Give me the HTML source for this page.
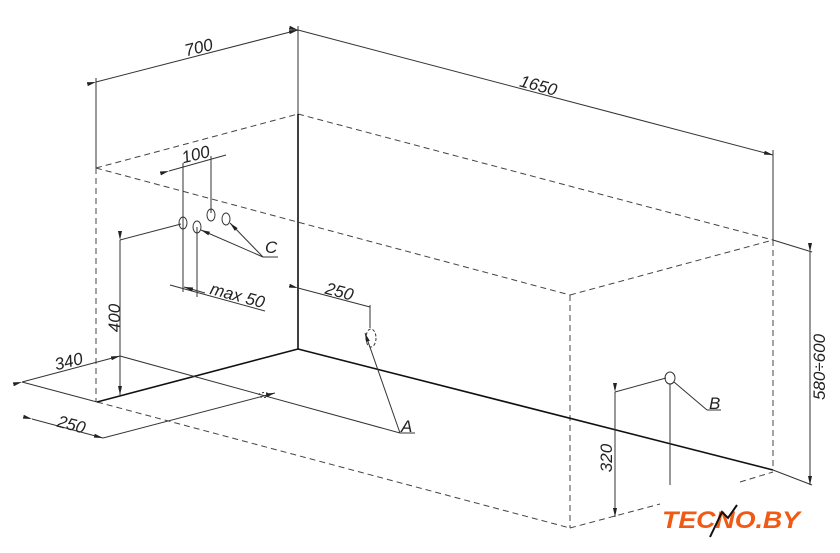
<!DOCTYPE html>
<html><head><meta charset="utf-8"><style>
html,body{margin:0;padding:0;background:#fff;width:840px;height:553px;overflow:hidden}
svg{display:block}
text{font-family:"Liberation Sans",sans-serif;font-style:italic;fill:#222;font-size:17px}
</style></head><body>
<svg width="840" height="553" viewBox="0 0 840 553" xmlns="http://www.w3.org/2000/svg">
<defs>
<marker id="ar" markerWidth="10" markerHeight="6" refX="9" refY="3" orient="auto" markerUnits="userSpaceOnUse"><path d="M0,1 L9,3 L0,5z" fill="#222"/></marker>
</defs>
<g stroke="#333" fill="none" stroke-width="1">
<line x1="298" y1="26" x2="298" y2="115"/>
<line x1="96" y1="78" x2="96" y2="168"/>
<line x1="773" y1="150" x2="773" y2="240"/>
<line x1="96" y1="82" x2="298" y2="30" marker-start="url(#ar)" marker-end="url(#ar)"/>
<line x1="298" y1="30" x2="773" y2="155" marker-start="url(#ar)" marker-end="url(#ar)"/>
</g>
<g stroke="#444" fill="none" stroke-width="1" stroke-dasharray="6,4">
<line x1="96" y1="168" x2="298" y2="114"/>
<line x1="298" y1="114" x2="773" y2="240"/>
<line x1="96" y1="168" x2="570" y2="295"/>
<line x1="570" y1="295" x2="773" y2="240"/>
<line x1="570" y1="295" x2="570" y2="528"/>
<line x1="773" y1="240" x2="773" y2="470"/>
<line x1="96" y1="168" x2="96" y2="402"/>
<line x1="97" y1="402" x2="570" y2="528"/>
<line x1="570" y1="528" x2="660" y2="504"/>
<line x1="740" y1="482" x2="773" y2="472"/>
</g>
<g stroke="#111" fill="none" stroke-width="1.6">
<line x1="298" y1="114" x2="298" y2="349"/>
<line x1="97" y1="402" x2="298" y2="349"/>
<line x1="298" y1="349" x2="773" y2="470"/>
</g>
<g stroke="#333" fill="none" stroke-width="1">
<line x1="773" y1="470" x2="812" y2="485"/>
<line x1="773" y1="240" x2="812" y2="252"/>
<line x1="810" y1="252" x2="810" y2="485" marker-start="url(#ar)" marker-end="url(#ar)"/>
<line x1="120" y1="240" x2="181" y2="224"/>
<line x1="120" y1="240" x2="120" y2="395" marker-start="url(#ar)" marker-end="url(#ar)"/>
<line x1="183" y1="163" x2="183" y2="292"/>
<line x1="197" y1="227" x2="197" y2="297"/>
<line x1="211" y1="156" x2="211" y2="213"/>
<line x1="169" y1="171" x2="226" y2="155" marker-start="url(#ar)"/>
<line x1="170" y1="285" x2="265" y2="311"/>
<line x1="205" y1="293" x2="184" y2="287" marker-end="url(#ar)"/>
<ellipse cx="183" cy="223" rx="4" ry="6"/>
<ellipse cx="197" cy="227" rx="4" ry="6"/>
<ellipse cx="211" cy="215" rx="4" ry="6"/>
<ellipse cx="226" cy="219" rx="4" ry="6"/>
<line x1="263" y1="257" x2="201" y2="230" marker-end="url(#ar)"/>
<line x1="263" y1="257" x2="230" y2="223" marker-end="url(#ar)"/>
<line x1="263" y1="257" x2="278" y2="257"/>
<line x1="298" y1="288" x2="370" y2="307" marker-start="url(#ar)"/>
<line x1="370" y1="305" x2="370" y2="328"/>
<ellipse cx="371" cy="338" rx="5" ry="9" stroke-dasharray="3,2"/>
<line x1="400" y1="433" x2="365" y2="333" marker-end="url(#ar)"/>
<line x1="400" y1="433" x2="415" y2="433"/>
<line x1="22" y1="382" x2="120" y2="356" marker-start="url(#ar)" marker-end="url(#ar)"/>
<line x1="22" y1="382" x2="97" y2="402"/>
<line x1="120" y1="356" x2="400" y2="433"/>
<line x1="32" y1="419" x2="103" y2="438" marker-start="url(#ar)" marker-end="url(#ar)"/>
<line x1="103" y1="438" x2="275" y2="393" marker-end="url(#ar)"/>
<ellipse cx="264" cy="395" rx="5" ry="2.5" stroke-dasharray="2,2"/>
<line x1="615" y1="392" x2="666" y2="378"/>
<line x1="615" y1="392" x2="615" y2="517" marker-start="url(#ar)" marker-end="url(#ar)"/>
<ellipse cx="670" cy="378" rx="5" ry="6"/>
<line x1="670" y1="384" x2="670" y2="485"/>
<line x1="674" y1="382" x2="707" y2="410"/>
<line x1="707" y1="410" x2="721" y2="410"/>
</g>
<text x="200" y="53" transform="rotate(-14 200 53)" text-anchor="middle">700</text>
<text x="537" y="91" transform="rotate(15 537 91)" text-anchor="middle">1650</text>
<text x="197" y="160" transform="rotate(-14 197 160)" text-anchor="middle">100</text>
<text x="236" y="301" transform="rotate(15 236 301)" text-anchor="middle">max 50</text>
<text x="338" y="297" transform="rotate(15 338 297)" text-anchor="middle">250</text>
<text x="120" y="318" transform="rotate(-90 120 318)" text-anchor="middle">400</text>
<text x="70" y="367" transform="rotate(-14 70 367)" text-anchor="middle">340</text>
<text x="70" y="430" transform="rotate(15 70 430)" text-anchor="middle">250</text>
<text x="612" y="458" transform="rotate(-90 612 458)" text-anchor="middle">320</text>
<text x="825" y="367" transform="rotate(-90 825 367)" text-anchor="middle">580÷600</text>
<text x="265" y="253" font-size="19">C</text>
<text x="401" y="432" font-size="19">A</text>
<text x="709" y="409" font-size="19">B</text>
<text x="662" y="528" textLength="138" lengthAdjust="spacingAndGlyphs" style="font-weight:bold;font-size:24px;fill:#f05a14">TECNO.BY</text>
<path d="M710,537 L722,512 L728,518 L737,505" stroke="#111" stroke-width="2" fill="none"/>
</svg>
</body></html>
